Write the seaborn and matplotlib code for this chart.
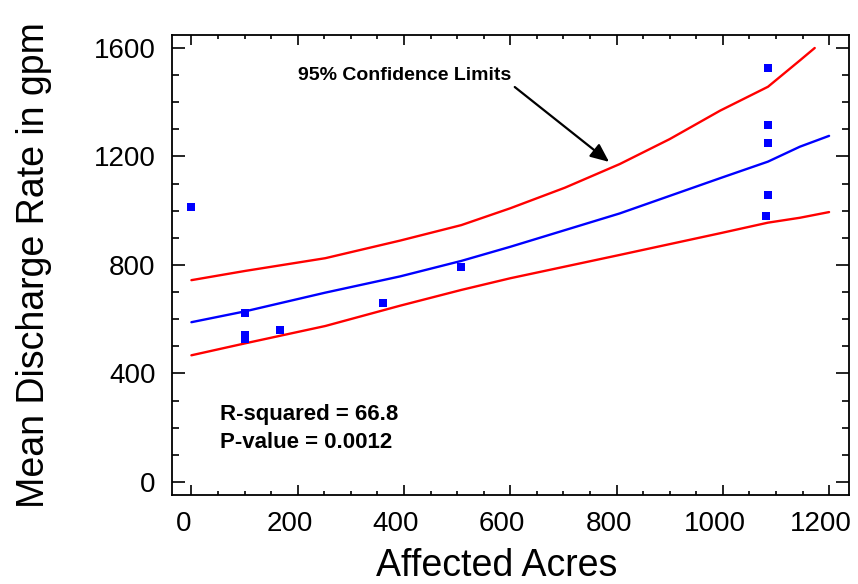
import matplotlib
matplotlib.use("Agg")
import matplotlib.pyplot as plt
import matplotlib.transforms as mtransforms
import seaborn as sns
import pandas as pd
from matplotlib.ticker import MultipleLocator

# Observed sites: affected acreage vs. mean discharge (gpm)
acres = [0, 101, 101, 101, 167, 360, 508, 1081, 1086, 1086, 1086, 1086]
discharge = [1015, 622, 542, 526, 559, 659, 794, 981, 1059, 1251, 1315, 1525]

# Fitted regression curve with lower / upper 95% confidence limits
fit_acres = [0, 101, 252, 393, 508, 600, 806, 995, 1085, 1145, 1200]
fit_mean = [589, 629, 698, 758, 815, 867, 990, 1120, 1181, 1236, 1276]
fit_lower = [467, 511, 575, 650, 708, 751, 837, 917, 956, 974, 995]
upper_acres = [0, 101, 252, 393, 508, 600, 703, 806, 900, 995, 1085, 1145, 1173]
fit_upper = [744, 778, 825, 890, 947, 1009, 1085, 1172, 1264, 1369, 1457, 1554, 1600]

x_ticks = [0, 200, 400, 600, 800, 1000, 1200]
y_ticks = [0, 400, 800, 1200, 1600]

pts = pd.DataFrame({"acres": acres, "gpm": discharge})
fit = pd.DataFrame({"acres": fit_acres, "mean": fit_mean, "lower": fit_lower})
upper = pd.DataFrame({"acres": upper_acres, "upper": fit_upper})

sns.set_style("ticks")
plt.rcParams["font.family"] = ["Liberation Sans", "DejaVu Sans"]
plt.rcParams["text.color"] = "black"
plt.rcParams["axes.labelcolor"] = "black"
plt.rcParams["xtick.color"] = "black"
plt.rcParams["ytick.color"] = "black"

fig = plt.figure(figsize=(8.58, 5.84), dpi=100)
ax = fig.add_axes([0.2008, 0.1529, 0.7884, 0.7877])

RED = "#ff0000"
BLUE = "#0000ff"

sns.lineplot(data=upper, x="acres", y="upper", ax=ax, color=RED, lw=1.7,
             sort=False, estimator=None)
sns.lineplot(data=fit, x="acres", y="lower", ax=ax, color=RED, lw=1.7,
             sort=False, estimator=None)
sns.lineplot(data=fit, x="acres", y="mean", ax=ax, color=BLUE, lw=1.7,
             sort=False, estimator=None)
sns.scatterplot(data=pts, x="acres", y="gpm", ax=ax, color=BLUE, marker="s",
                s=30, linewidth=0, zorder=5)

ax.set_xlim(-36, 1237)
ax.set_ylim(-47, 1649)
ax.set_xticks(x_ticks)
ax.set_yticks(y_ticks)
ax.xaxis.set_minor_locator(MultipleLocator(50))
ax.yaxis.set_minor_locator(MultipleLocator(100))

for s in ax.spines.values():
    s.set_visible(True)
    s.set_linewidth(1.3)
    s.set_color("black")

ax.tick_params(axis="both", which="both", direction="in", top=True, right=True,
               colors="black", width=1.2)
ax.tick_params(axis="x", which="major", length=7, pad=12, labelsize=20)
ax.tick_params(axis="x", which="minor", length=3)
ax.tick_params(axis="y", which="major", length=9.6, pad=12, labelsize=20)
ax.tick_params(axis="y", which="minor", length=5)

# x tick labels sit slightly left of their ticks
shift = mtransforms.ScaledTranslation(-8 / 100, 0, fig.dpi_scale_trans)
for lab in ax.get_xticklabels():
    lab.set_transform(lab.get_transform() + shift)

ax.set_xlabel("Affected Acres", fontsize=27)
ax.set_ylabel("Mean Discharge Rate in gpm", fontsize=27)
ax.xaxis.set_label_coords(0.48, -0.116)
ax.yaxis.set_label_coords(-0.178, 0.5)

ax.annotate("95% Confidence Limits", xy=(786, 1180), xytext=(201, 1497),
            ha="left", va="center", fontsize=14, fontweight="bold",
            arrowprops=dict(arrowstyle="-|>,head_length=0.8,head_width=0.35",
                            color="black", lw=1.6, relpos=(1.0, 0.0),
                            shrinkA=0, shrinkB=0))

ax.text(54, 247, "R-squared = 66.8", ha="left", va="center",
        fontsize=16, fontweight="bold")
ax.text(54, 145, "P-value = 0.0012", ha="left", va="center",
        fontsize=16, fontweight="bold")

fig.savefig("out.png", dpi=100)
